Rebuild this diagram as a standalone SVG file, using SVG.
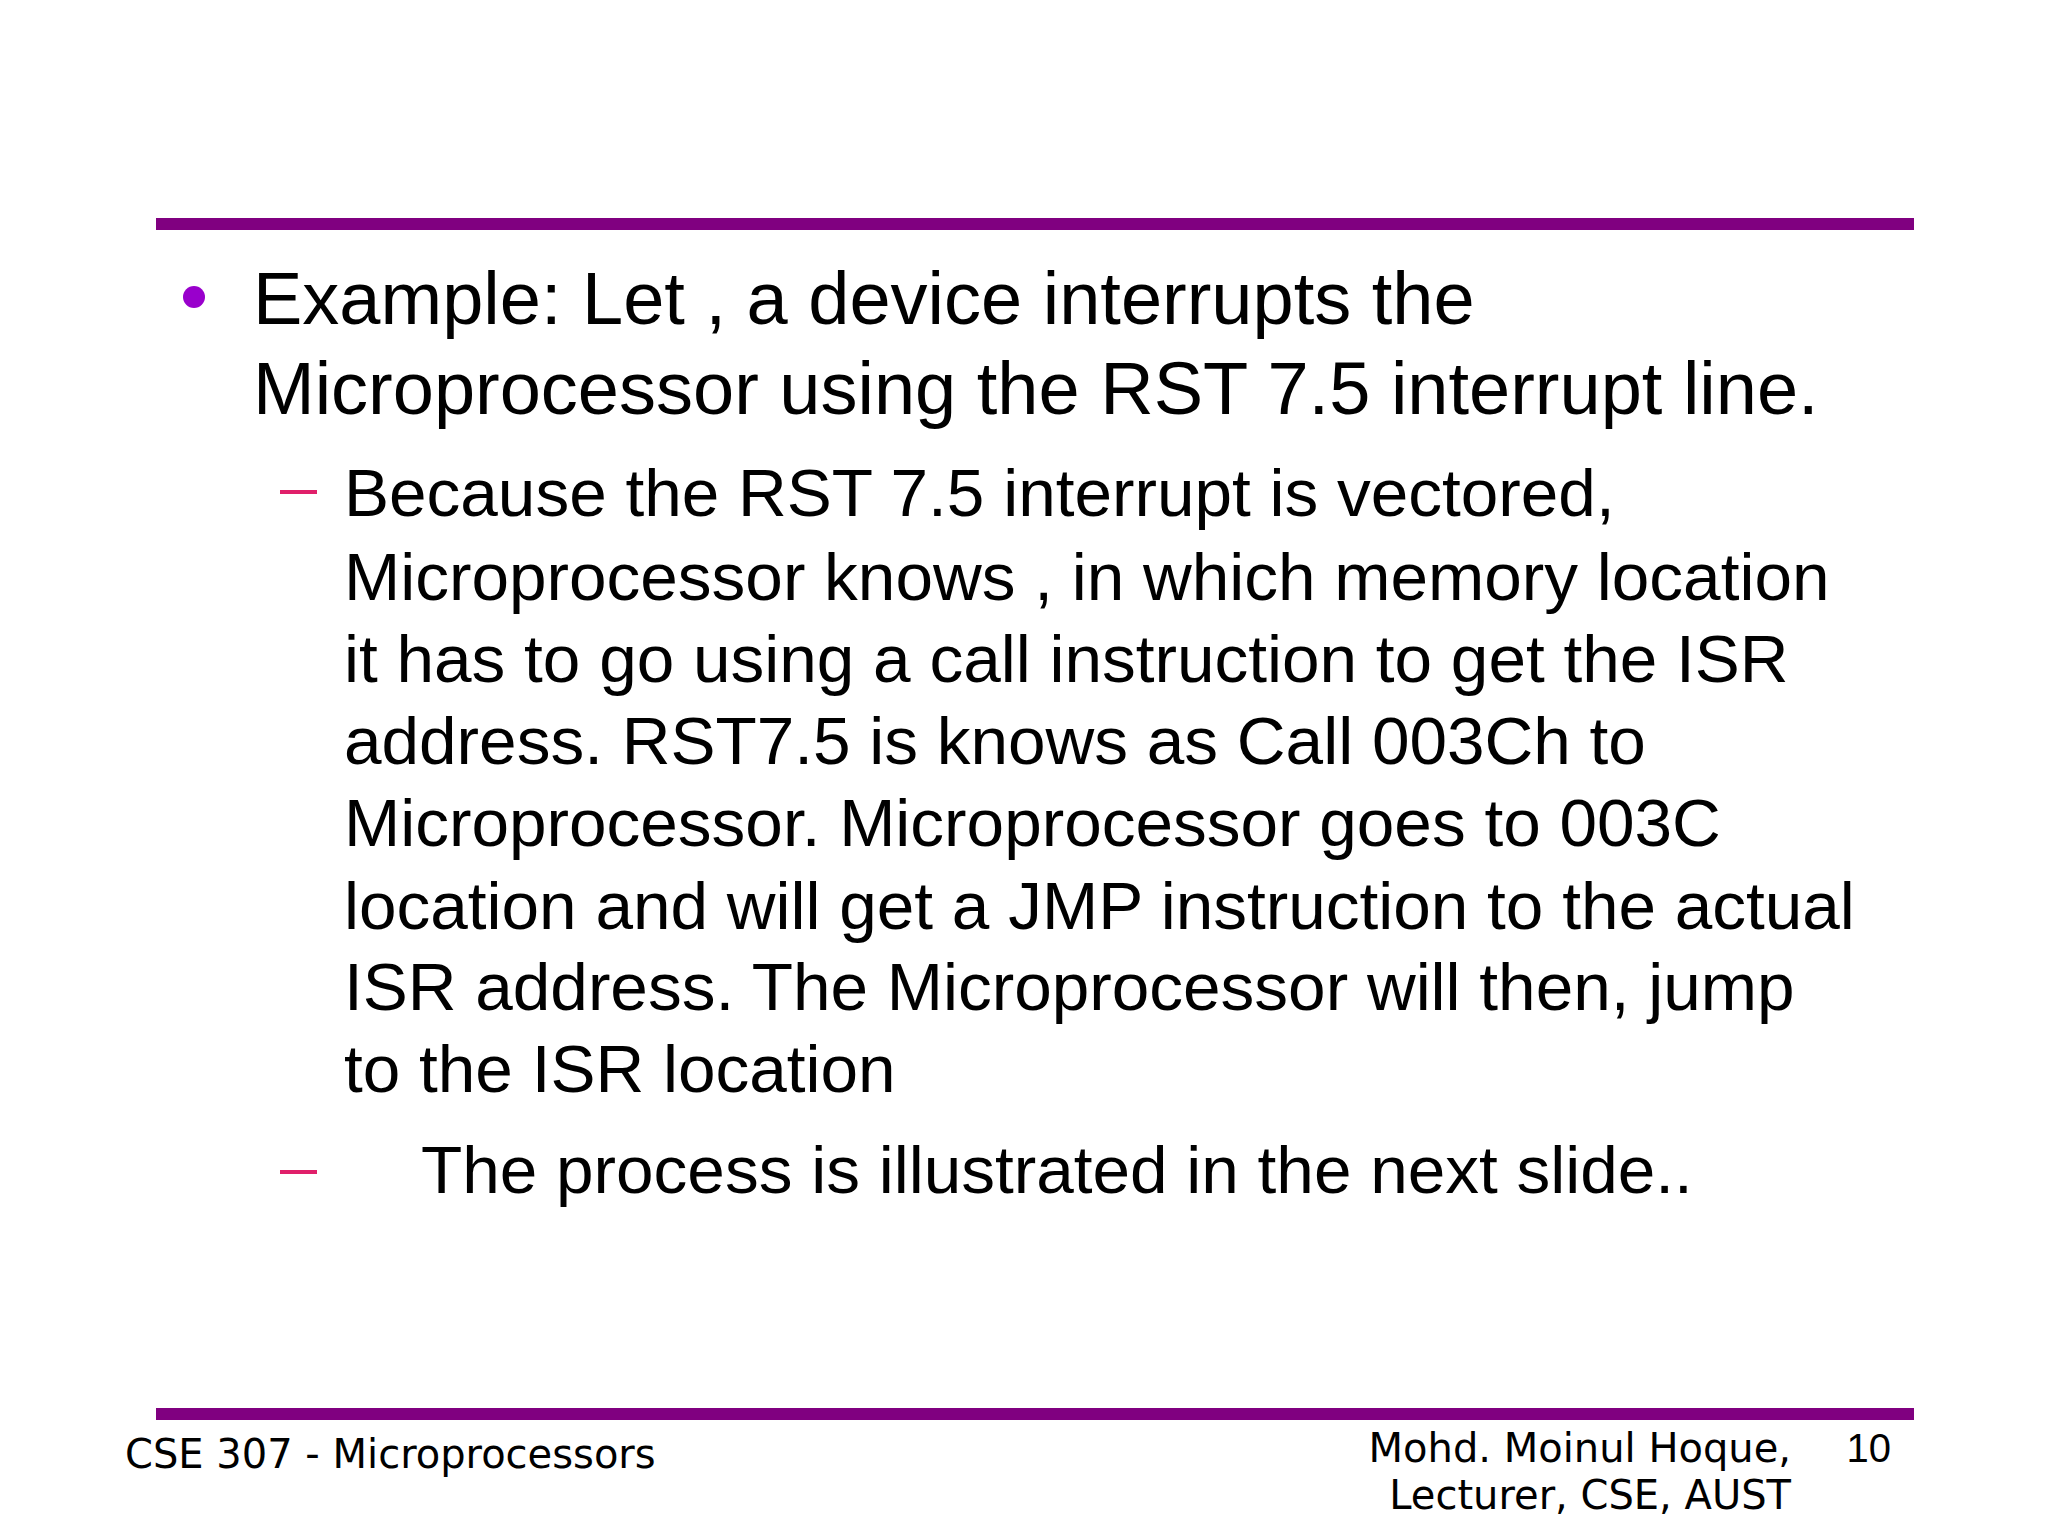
<svg xmlns="http://www.w3.org/2000/svg" width="2048" height="1536" viewBox="0 0 2048 1536">
<style>
.m{font-family:"Liberation Sans",Arial,sans-serif;fill:#000}
.b{font-size:74px}
.s{font-size:67.5px}
.f{font-family:"DejaVu Sans",sans-serif;font-size:40px;fill:#000}
.d{fill:#e0206a}
</style>
<rect width="2048" height="1536" fill="#fff"/>
<rect x="156" y="218" width="1758" height="12" fill="#800080"/>
<rect x="156" y="1408" width="1758" height="12" fill="#800080"/>
<circle cx="194" cy="297" r="11" fill="#9900cc"/>
<text class="m b" x="253" y="324">Example: Let , a device interrupts the</text>
<text class="m b" x="253" y="414">Microprocessor using the RST 7.5 interrupt line.</text>
<rect class="d" x="280" y="490" width="37" height="4"/>
<g class="m s" xml:space="preserve">
<text x="344" y="516">Because the RST 7.5 interrupt is vectored,</text>
<text x="344" y="600">Microprocessor knows , in which memory location</text>
<text x="344" y="682">it has to go using a call instruction to get the ISR</text>
<text x="344" y="764">address. RST7.5 is knows as Call 003Ch to</text>
<text x="344" y="846">Microprocessor. Microprocessor goes to 003C</text>
<text x="344" y="929">location and will get a JMP instruction to the actual</text>
<text x="344" y="1010">ISR address.  The Microprocessor will then, jump</text>
<text x="344" y="1092">to the ISR location</text>
<text x="421" y="1193">The process is illustrated in the next slide..</text>
</g>
<rect class="d" x="280" y="1170" width="37" height="4"/>
<text class="f" x="125" y="1468">CSE 307 - Microprocessors</text>
<text class="f" x="1791" y="1462" text-anchor="end">Mohd. Moinul Hoque,</text>
<text class="f" x="1791" y="1509" text-anchor="end">Lecturer, CSE, AUST</text>
<text class="m" x="1891" y="1462" font-size="40" text-anchor="end">10</text>
</svg>
